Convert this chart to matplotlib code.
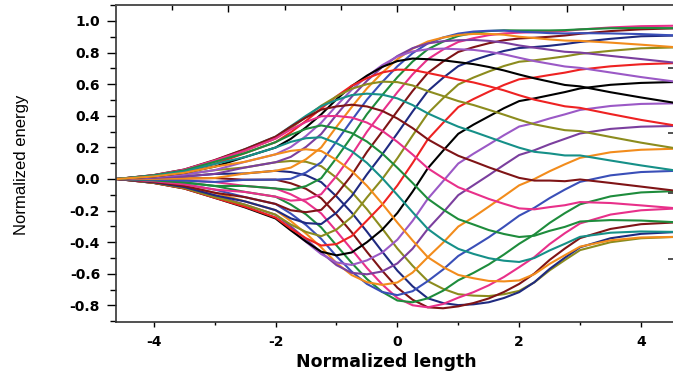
import matplotlib
matplotlib.use('Agg')
import matplotlib.pyplot as plt
from matplotlib.ticker import MultipleLocator, FixedLocator, FormatStrFormatter

plt.rcParams['axes.unicode_minus'] = False

# sample positions along the normalized length
length = [-4.6, -4.0, -3.5, -3.0, -2.5, -2.0, -1.75, -1.5, -1.25, -1.0,
          -0.75, -0.5, -0.25, 0.0, 0.25, 0.5, 0.75, 1.0, 1.25, 1.5,
          1.75, 2.0, 2.25, 2.5, 2.75, 3.0, 3.5, 4.0, 4.6]

# normalized energy of each curve at the positions above
energy = [
    [0, .012, .028, .056, .073, .106, .114, .109, .081, .008, -.082, -.191, -.313, -.440, -.549, -.646, -.695, -.729, -.738, -.741, -.729, -.708, -.654, -.578, -.513, -.450, -.400, -.375, -.366],
    [0, .007, .016, .032, .035, .052, .044, .024, -.020, -.110, -.213, -.333, -.459, -.580, -.679, -.755, -.785, -.798, -.793, -.780, -.753, -.716, -.653, -.569, -.498, -.432, -.375, -.347, -.335],
    [0, .001, .003, .006, -.005, -.004, -.027, -.062, -.122, -.225, -.337, -.461, -.580, -.688, -.764, -.812, -.818, -.806, -.785, -.756, -.715, -.664, -.598, -.512, -.440, -.374, -.316, -.286, -.274],
    [0, -.004, -.010, -.019, -.044, -.060, -.097, -.146, -.218, -.330, -.446, -.563, -.667, -.753, -.799, -.812, -.791, -.751, -.716, -.673, -.620, -.558, -.494, -.412, -.343, -.281, -.225, -.198, -.186],
    [0, -.009, -.022, -.044, -.082, -.112, -.162, -.224, -.307, -.420, -.531, -.633, -.714, -.769, -.780, -.755, -.707, -.641, -.594, -.541, -.478, -.410, -.351, -.278, -.216, -.160, -.110, -.085, -.076],
    [0, -.014, -.034, -.067, -.115, -.158, -.219, -.291, -.379, -.489, -.586, -.664, -.715, -.735, -.710, -.646, -.573, -.487, -.429, -.369, -.302, -.232, -.182, -.121, -.067, -.018, .023, .044, .052],
    [0, -.018, -.044, -.087, -.142, -.197, -.266, -.345, -.433, -.532, -.608, -.653, -.670, -.655, -.592, -.495, -.403, -.301, -.241, -.175, -.108, -.040, .000, .049, .093, .134, .169, .185, .192],
    [0, -.021, -.051, -.103, -.163, -.226, -.300, -.381, -.465, -.545, -.594, -.603, -.585, -.534, -.441, -.316, -.212, -.102, -.039, .024, .089, .152, .182, .220, .254, .288, .317, .331, .336],
    [0, -.024, -.057, -.114, -.176, -.244, -.320, -.398, -.475, -.528, -.544, -.515, -.466, -.384, -.265, -.125, -.014, .098, .160, .218, .277, .332, .354, .383, .409, .437, .462, .475, .479],
    [0, -.025, -.060, -.119, -.180, -.250, -.325, -.396, -.460, -.483, -.465, -.400, -.321, -.215, -.080, .068, .179, .286, .344, .396, .448, .493, .510, .530, .550, .573, .596, .608, .614],
    [0, -.025, -.060, -.119, -.176, -.244, -.314, -.375, -.421, -.412, -.361, -.263, -.163, -.041, .101, .251, .355, .455, .506, .552, .595, .631, .642, .658, .673, .692, .713, .726, .734],
    [0, -.024, -.057, -.114, -.163, -.226, -.288, -.335, -.362, -.320, -.240, -.117, -.001, .131, .275, .415, .511, .598, .642, .680, .715, .742, .751, .763, .776, .792, .811, .827, .833],
    [0, -.021, -.051, -.103, -.142, -.197, -.249, -.279, -.285, -.213, -.108, .029, .155, .289, .427, .556, .640, .714, .752, .783, .810, .829, .835, .843, .854, .867, .887, .903, .908],
    [0, -.018, -.044, -.087, -.115, -.158, -.198, -.210, -.195, -.098, .024, .171, .299, .430, .557, .671, .743, .804, .834, .859, .878, .889, .894, .900, .908, .919, .936, .947, .954],
    [0, -.014, -.034, -.067, -.082, -.112, -.137, -.130, -.096, .019, .152, .299, .425, .549, .662, .758, .819, .867, .891, .910, .921, .926, .929, .932, .937, .946, .959, .967, .970],
    [0, -.009, -.022, -.044, -.044, -.060, -.069, -.045, .005, .133, .268, .410, .530, .644, .743, .821, .869, .905, .924, .936, .941, .940, .940, .940, .942, .947, .954, .956, .954],
    [0, -.004, -.010, -.019, -.005, -.004, .001, .041, .106, .237, .371, .502, .613, .713, .796, .858, .895, .920, .933, .938, .939, .932, .928, .923, .921, .923, .921, .917, .908],
    [0, .001, .003, .006, .035, .052, .072, .125, .200, .330, .455, .573, .672, .758, .825, .870, .895, .911, .918, .918, .913, .900, .892, .883, .876, .874, .863, .850, .833],
    [0, .007, .016, .032, .073, .106, .140, .203, .285, .406, .520, .621, .708, .778, .828, .858, .872, .878, .880, .874, .863, .845, .831, .818, .805, .800, .779, .759, .734],
    [0, .012, .028, .056, .109, .156, .202, .272, .356, .464, .565, .649, .720, .775, .807, .821, .825, .821, .817, .805, .789, .767, .746, .729, .712, .703, .674, .645, .614],
    [0, .016, .039, .078, .139, .199, .254, .327, .409, .504, .588, .654, .709, .746, .762, .758, .751, .739, .727, .709, .687, .661, .637, .616, .595, .586, .549, .516, .479],
    [0, .020, .048, .095, .164, .233, .295, .368, .446, .523, .590, .638, .674, .692, .690, .671, .651, .629, .611, .587, .561, .530, .502, .481, .460, .450, .411, .374, .336],
    [0, .023, .054, .109, .180, .256, .322, .393, .464, .522, .571, .600, .616, .613, .592, .556, .525, .493, .468, .438, .407, .375, .346, .327, .309, .303, .266, .230, .192],
    [0, .024, .059, .117, .189, .268, .334, .400, .461, .500, .531, .540, .534, .510, .468, .415, .372, .331, .299, .265, .231, .198, .172, .162, .149, .149, .117, .086, .052],
    [0, .025, .060, .120, .189, .268, .331, .389, .439, .459, .470, .459, .431, .383, .322, .251, .197, .147, .111, .074, .040, .007, -.010, -.010, -.014, -.003, -.025, -.048, -.076],
    [0, .024, .059, .117, .180, .256, .313, .361, .397, .399, .389, .357, .305, .235, .155, .068, .006, -.052, -.089, -.126, -.157, -.186, -.192, -.178, -.166, -.146, -.152, -.167, -.186],
    [0, .023, .054, .109, .164, .233, .280, .317, .339, .321, .291, .237, .162, .071, -.025, -.125, -.193, -.254, -.288, -.323, -.348, -.367, -.359, -.328, -.303, -.269, -.260, -.263, -.274],
    [0, .020, .048, .095, .139, .199, .235, .258, .264, .227, .176, .102, .006, -.101, -.210, -.316, -.386, -.442, -.474, -.501, -.517, -.525, -.500, -.452, -.410, -.366, -.340, -.332, -.335],
    [0, .016, .039, .078, .109, .156, .178, .188, .177, .121, .051, -.043, -.156, -.276, -.389, -.495, -.557, -.607, -.628, -.645, -.648, -.642, -.602, -.537, -.482, -.428, -.388, -.370, -.366],
]

palette = ['#8c8c1e', '#1f2a80', '#7f1416', '#e8308a', '#1e8c3c', '#3a4fb8',
           '#f28c1c', '#7b3f9e', '#9b59c6', '#000000', '#ee2222']
colors = [palette[i % len(palette)] for i in range(len(energy))]
colors[27] = '#169088'
colors[23] = '#169088'

# positions of the short marks on the right-hand frame
right_marks = [0.70, 0.293, -0.09, -0.506]

fig = plt.figure(figsize=(6.73, 3.75), dpi=100)
ax = fig.add_axes([116 / 673, 53.3 / 375, 560 / 673, 316.7 / 375])

for values, c in zip(energy, colors):
    ax.plot(length, values, color=c, linewidth=1.5, solid_joinstyle='round')

ax.set_xlim(-4.62, 4.575)
ax.set_ylim(-0.903, 1.101)

ax.xaxis.set_major_locator(MultipleLocator(2))
ax.xaxis.set_minor_locator(MultipleLocator(1))
ax.yaxis.set_major_locator(MultipleLocator(0.2))
ax.yaxis.set_minor_locator(MultipleLocator(0.1))
ax.yaxis.set_major_formatter(FormatStrFormatter('%.1f'))
ax.xaxis.set_major_formatter(FormatStrFormatter('%d'))

ax.tick_params(axis='y', which='major', direction='out', length=6.5, width=1.0, pad=5)
ax.tick_params(axis='y', which='minor', direction='out', length=4.3, width=1.0)
ax.tick_params(axis='x', which='major', direction='out', length=3.8, width=1.0, pad=6)
ax.tick_params(axis='x', which='minor', direction='out', length=2.5, width=1.0)
ax.tick_params(right=False, top=False)
for lab in ax.get_xticklabels() + ax.get_yticklabels():
    lab.set_fontfamily('DejaVu Sans')
    lab.set_fontweight('bold')
    lab.set_fontsize(10)

for side in ['left', 'bottom', 'top']:
    ax.spines[side].set_linewidth(1.2)
    ax.spines[side].set_color('#333333')
ax.spines['right'].set_visible(False)

# top axis carries its own unlabelled tick scale
top = ax.twiny()
top.set_xlim(ax.get_xlim())
top.xaxis.set_major_locator(FixedLocator([-2.778, 0.0, 2.778]))
top.xaxis.set_minor_locator(FixedLocator([-3.704, -1.852, -0.926, 0.926, 1.852, 3.704]))
top.tick_params(axis='x', which='major', direction='in', length=5, width=1.0, labeltop=False)
top.tick_params(axis='x', which='minor', direction='in', length=3.5, width=1.0)
for side in ['left', 'bottom', 'right']:
    top.spines[side].set_visible(False)
top.spines['top'].set_linewidth(1.2)
top.spines['top'].set_color('#555555')

# right frame ticks, pointing inwards
right = ax.twinx()
right.set_ylim(ax.get_ylim())
right.yaxis.set_major_locator(FixedLocator(right_marks))
right.yaxis.set_minor_locator(FixedLocator([]))
right.tick_params(axis='y', which='major', direction='in', length=6, width=1.2,
                  color='#333333', labelright=False)
for side in right.spines.values():
    side.set_visible(False)

fig.text(386 / 673, 1 - 362 / 375, 'Normalized length', ha='center', va='center',
         fontsize=12.5, fontweight='bold', family='DejaVu Sans')
fig.text(22 / 673, 1 - 164.5 / 375, 'Normalized energy', ha='center', va='center',
         rotation=90, fontsize=12, family=['Liberation Sans', 'DejaVu Sans'])

fig.savefig('out.png', dpi=100)
